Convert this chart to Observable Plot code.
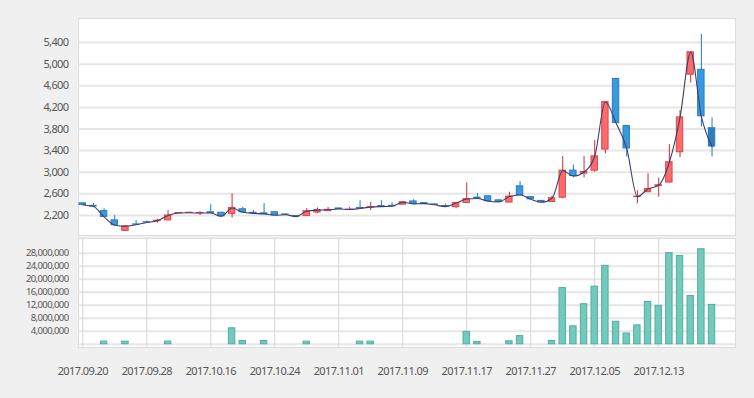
<!DOCTYPE html>
<html><head><meta charset="utf-8">
<script src="https://cdn.jsdelivr.net/npm/d3@7"></script>
<script src="https://cdn.jsdelivr.net/npm/@observablehq/plot@0.6"></script>
<style>
html,body{margin:0;padding:0;background:#f0f0f0;}
#wrap{position:relative;width:754px;height:398px;overflow:hidden;background:#f0f0f0;}
#wrap svg{position:absolute;left:0;top:0;}
#wrap svg text{letter-spacing:-0.6px;}
</style></head><body><div id="wrap"></div>
<script>
const dates = ["2017.09.20","2017.09.21","2017.09.22","2017.09.25","2017.09.26","2017.09.27","2017.09.28","2017.09.29","2017.10.10","2017.10.11",
"2017.10.12","2017.10.13","2017.10.16","2017.10.17","2017.10.18","2017.10.19","2017.10.20","2017.10.23","2017.10.24","2017.10.25",
"2017.10.26","2017.10.27","2017.10.30","2017.10.31","2017.11.01","2017.11.02","2017.11.03","2017.11.06","2017.11.07","2017.11.08",
"2017.11.09","2017.11.10","2017.11.13","2017.11.14","2017.11.15","2017.11.16","2017.11.17","2017.11.20","2017.11.21","2017.11.22",
"2017.11.23","2017.11.24","2017.11.27","2017.11.28","2017.11.29","2017.11.30","2017.12.01","2017.12.04","2017.12.05","2017.12.06",
"2017.12.07","2017.12.08","2017.12.11","2017.12.12","2017.12.13","2017.12.14","2017.12.15","2017.12.18","2017.12.19","2017.12.20"];
const open  = [2425,2380,2285,2110,1915,2035,2075,2095,2110,2240, 2245,2240,2260,2250,2230,2315,2250,2240,2260,2220, 2190,2190,2255,2280,2330,2305,2340,2345,2375,2380, 2400,2460,2430,2405,2375,2355,2430,2530,2555,2480, 2440,2740,2540,2470,2450,2530,3030,2975,3030,3420, 4725,3855,2540,2630,2745,2810,3370,4805,4895,3815];
const high  = [2430,2425,2325,2200,2005,2105,2100,2130,2290,2255, 2260,2270,2400,2260,2600,2350,2290,2420,2265,2225, 2195,2330,2340,2350,2335,2345,2475,2445,2475,2435, 2450,2490,2440,2410,2410,2435,2800,2605,2560,2485, 2630,2830,2545,2475,2560,3290,3135,3290,3585,4305, 4730,3860,2660,2970,2890,3510,4140,5225,5550,4005];
const low   = [2390,2360,2170,2015,1910,2025,2065,2060,2105,2235, 2240,2200,2240,2180,2155,2255,2235,2225,2200,2210, 2175,2185,2230,2275,2315,2295,2325,2290,2360,2365, 2395,2410,2415,2390,2360,2325,2425,2510,2460,2440, 2435,2575,2490,2440,2445,2510,2895,2895,3000,3340, 3905,3280,2415,2625,2540,2800,3270,4650,3835,3280];
const close = [2395,2365,2175,2020,2000,2030,2070,2105,2200,2245, 2250,2245,2245,2185,2340,2260,2240,2230,2205,2215, 2180,2280,2300,2305,2320,2310,2330,2355,2365,2370, 2445,2415,2420,2398,2365,2430,2505,2515,2465,2450, 2550,2580,2500,2445,2520,3030,2930,3005,3295,4300, 3910,3440,2550,2690,2760,3185,4015,5220,4035,3475];
const volume = [0,0,800000,0,800000,0,0,0,800000,0, 0,0,0,0,4900000,1000000,0,1000000,0,0, 0,800000,0,0,0,0,800000,800000,0,0, 0,0,0,0,0,0,3800000,700000,0,0, 900000,2500000,0,0,1000000,17300000,5500000,12300000,17700000,24100000, 6900000,3300000,5800000,13000000,11800000,28000000,27100000,14800000,29200000,12100000];
const tickLabels = ["2017.09.20","2017.09.28","2017.10.16","2017.10.24","2017.11.01","2017.11.09","2017.11.17","2017.11.27","2017.12.05","2017.12.13"];
const priceTicks = [2200,2600,3000,3400,3800,4200,4600,5000,5400];
const volumeTicks = [4000000,8000000,12000000,16000000,20000000,24000000,28000000];

const rows = dates.map((d,i)=>({i, date:d, open:open[i], high:high[i], low:low[i], close:close[i], volume:volume[i]}));
const up = d => d.close >= d.open;
const tickIdx = tickLabels.map(l => dates.indexOf(l));
const xDomain = [-0.4, 61.2];
const fmt = d3.format(",");
const W = 754, H = 398;
const style = {fontFamily:"'Noto Sans', sans-serif", fontSize:"11px", color:"#555", background:"transparent", overflow:"visible"};

const priceChart = Plot.plot({
  width: W, height: H, marginLeft: 78, marginRight: 19, marginTop: 18, marginBottom: H - 235,
  style, color: {type: "identity"},
  x: {domain: xDomain, axis: null, label: null},
  y: {domain: [1830, 5844], axis: null, label: null},
  marks: [
    Plot.frame({fill: "white", stroke: "#dcdcdc"}),
    Plot.gridY(priceTicks, {stroke: "#e6e6e6", strokeOpacity: 1, strokeWidth: 2}),
    Plot.axisY(priceTicks, {tickSize: 0, tickPadding: 10, tickFormat: fmt, label: null}),
    Plot.ruleX(rows, {x: "i", y1: "low", y2: "high", stroke: d => up(d) ? "#c4303a" : "#2a78b8"}),
    Plot.rect(rows, {x1: d => d.i - 0.3, x2: d => d.i + 0.3, y1: "open", y2: "close",
      fill: d => up(d) ? "#ff6b6b" : (d.i === rows.length - 1 ? "#2f7fc0" : "#389ade"),
      stroke: d => up(d) ? "#d9474a" : "#2a7cc0"}),
    Plot.line(rows, {x: "i", y: "close", curve: "monotone-x", stroke: "#3e3e6e", strokeWidth: 1.1})
  ]
});

const volumeChart = Plot.plot({
  width: W, height: H, marginLeft: 78, marginRight: 19, marginTop: 238, marginBottom: H - 347,
  style, color: {type: "identity"},
  x: {domain: xDomain, axis: null, label: null},
  y: {domain: [-1000000, 32500000], axis: null, label: null},
  marks: [
    Plot.frame({fill: "white", stroke: "#dcdcdc"}),
    Plot.gridY([0, ...volumeTicks], {stroke: "#e6e6e6", strokeOpacity: 1, strokeWidth: 2}),
    Plot.gridX(tickIdx, {stroke: "#d4d4d4", strokeOpacity: 1}),
    Plot.axisY(volumeTicks, {tickSize: 0, tickPadding: 10, tickFormat: fmt, label: null, fontSize: 9.5}),
    Plot.axisX(tickIdx, {tickSize: 0, tickPadding: 20, tickFormat: i => dates[i], label: null}),
    Plot.rect(rows.filter(d => d.volume > 0), {x1: d => d.i - 0.3, x2: d => d.i + 0.3, y1: 0, y2: "volume",
      fill: "#72c9bc", stroke: "#4fae9f"})
  ]
});

const wrap = document.getElementById("wrap");
wrap.appendChild(volumeChart);
wrap.appendChild(priceChart);
</script></body></html>
